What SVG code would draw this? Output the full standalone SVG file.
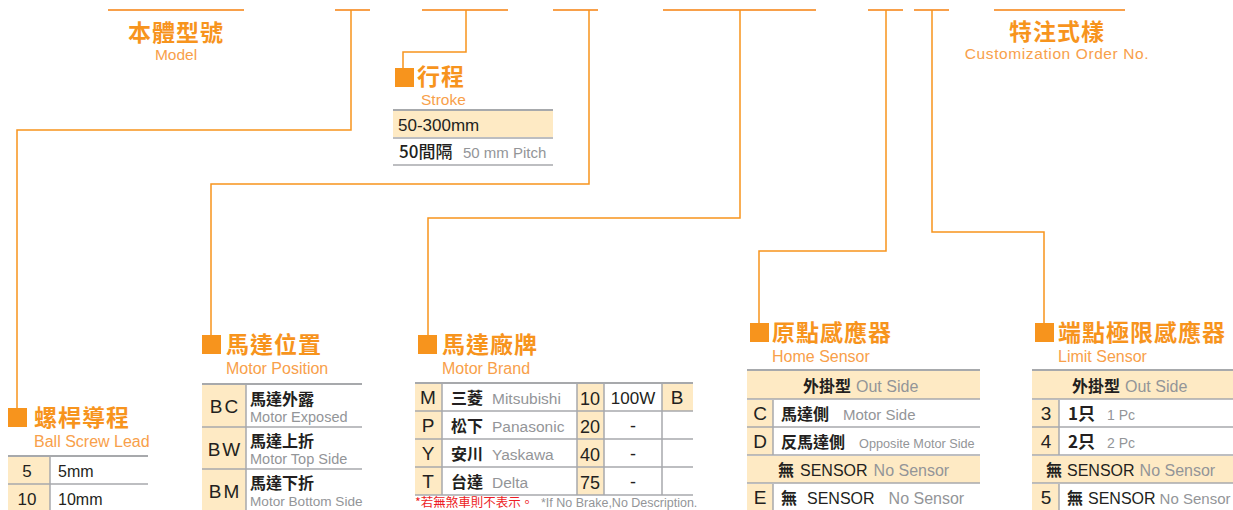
<svg xmlns="http://www.w3.org/2000/svg" width="1233" height="510" viewBox="0 0 1233 510">
<style>
.bar{stroke:#F8A04A;stroke-width:2;fill:none}
.ln{stroke:#F7941D;stroke-width:1.5;fill:none}
.sq{fill:#F7941D}
.zh{font-family:"Noto Sans CJK TC","Noto Sans CJK SC",sans-serif;font-weight:700;fill:#F7941D;font-size:23px;letter-spacing:1px}
.en{font-family:"Liberation Sans",Arial,sans-serif;fill:#F8A04A;font-size:15.5px}
.grid{stroke:#A7A9AC;stroke-width:1.5;fill:none}
.gtop{stroke:#A7A9AC;stroke-width:2;fill:none}
.bg{fill:#FEEAC4}
.code{font-family:"Liberation Sans",Arial,sans-serif;font-size:18px;fill:#231F20}
.kz{font-family:"Noto Sans CJK TC","Noto Sans CJK SC",sans-serif;font-weight:700;font-size:16px;fill:#231F20}
.kb{font-family:"Liberation Sans",Arial,sans-serif;font-size:16px;fill:#231F20}
.eg{font-family:"Liberation Sans",Arial,sans-serif;font-size:14.5px;fill:#939598}
.mid{text-anchor:middle}
</style>
<rect width="1233" height="510" fill="#FFFFFF"/>

<g id="top-bars">
<line class="bar" x1="108" y1="10" x2="244" y2="10"/>
<line class="bar" x1="335" y1="10" x2="370" y2="10"/>
<line class="bar" x1="422" y1="10" x2="508" y2="10"/>
<line class="bar" x1="553" y1="10" x2="598" y2="10"/>
<line class="bar" x1="663" y1="10" x2="816" y2="10"/>
<line class="bar" x1="868" y1="10" x2="903" y2="10"/>
<line class="bar" x1="914" y1="10" x2="949" y2="10"/>
<line class="bar" x1="994" y1="10" x2="1125" y2="10"/>
</g>

<g id="connectors">
<path class="ln" d="M351,10 V130 H17 V408"/>
<path class="ln" d="M466,10 V52 H403 V68"/>
<path class="ln" d="M589,10 V184 H211 V335"/>
<path class="ln" d="M740,10 V218 H428 V335"/>
<path class="ln" d="M886,10 V251 H759 V323"/>
<path class="ln" d="M932,10 V232 H1044 V323"/>
</g>

<g id="model">
<text class="zh mid" x="176" y="41">本體型號</text>
<text class="en mid" x="176" y="60">Model</text>
</g>

<g id="custom">
<text class="zh mid" x="1057" y="40">特注式樣</text>
<text class="en mid" x="1057" y="59" style="letter-spacing:0.6px">Customization Order No.</text>
</g>

<g id="stroke">
<rect class="sq" x="395" y="68" width="19" height="19"/>
<text class="zh" x="417" y="85">行程</text>
<text class="en" x="421" y="105">Stroke</text>
<rect class="bg" x="393" y="111" width="160" height="26"/>
<line class="gtop" x1="393" y1="110" x2="553" y2="110"/>
<line class="grid" x1="393" y1="138" x2="553" y2="138"/>
<line class="grid" x1="393" y1="165" x2="553" y2="165"/>
<text class="kb" x="398" y="131" style="font-size:17px">50-300mm</text>
<text class="kz" x="399" y="158" style="font-size:17px;font-weight:500">50間隔</text>
<text class="eg" x="463" y="158" style="font-size:15px">50 mm Pitch</text>
</g>

<g id="ball-screw-lead">
<rect class="sq" x="8" y="408" width="19" height="19"/>
<text class="zh" x="34" y="426">螺桿導程</text>
<text class="en" x="34" y="447" style="font-size:16px">Ball Screw Lead</text>
<rect class="bg" x="8" y="457" width="42" height="53"/>
<line class="gtop" x1="8" y1="456" x2="148" y2="456"/>
<line class="grid" x1="8" y1="484" x2="148" y2="484"/>
<line class="grid" x1="50" y1="457" x2="50" y2="510"/>
<text class="code mid" x="27" y="477" style="font-size:17px">5</text>
<text class="kb" x="58" y="477">5mm</text>
<text class="code mid" x="27" y="505" style="font-size:17px">10</text>
<text class="kb" x="58" y="505">10mm</text>
</g>

<g id="motor-position">
<rect class="sq" x="202" y="335" width="19" height="19"/>
<text class="zh" x="226" y="353">馬達位置</text>
<text class="en" x="226" y="374" style="font-size:16px">Motor Position</text>
<rect class="bg" x="202" y="385" width="44" height="125"/>
<line class="gtop" x1="202" y1="384" x2="362" y2="384"/>
<line class="grid" x1="202" y1="427" x2="362" y2="427"/>
<line class="grid" x1="202" y1="469" x2="362" y2="469"/>
<line class="grid" x1="246" y1="385" x2="246" y2="510"/>
<text class="code mid" x="225" y="413" style="font-size:19px;letter-spacing:2px">BC</text>
<text class="code mid" x="225" y="456" style="font-size:19px;letter-spacing:2px">BW</text>
<text class="code mid" x="225" y="498" style="font-size:19px;letter-spacing:2px">BM</text>
<text class="kz" x="250" y="405">馬達外露</text>
<text class="eg" x="250" y="422">Motor Exposed</text>
<text class="kz" x="250" y="447">馬達上折</text>
<text class="eg" x="250" y="464">Motor Top Side</text>
<text class="kz" x="250" y="489">馬達下折</text>
<text class="eg" x="250" y="506" style="font-size:13.6px">Motor Bottom Side</text>
</g>

<g id="motor-brand">
<rect class="sq" x="418" y="335" width="19" height="19"/>
<text class="zh" x="442" y="353">馬達廠牌</text>
<text class="en" x="442" y="374" style="font-size:16px">Motor Brand</text>
<rect class="bg" x="415" y="384" width="27" height="111"/>
<rect class="bg" x="577" y="384" width="27" height="111"/>
<rect class="bg" x="662" y="384" width="31" height="27"/>
<line class="gtop" x1="415" y1="383" x2="693" y2="383"/>
<line class="grid" x1="415" y1="411" x2="693" y2="411"/>
<line class="grid" x1="415" y1="439" x2="693" y2="439"/>
<line class="grid" x1="415" y1="467" x2="693" y2="467"/>
<line class="grid" x1="415" y1="495" x2="693" y2="495"/>
<line class="grid" x1="442" y1="384" x2="442" y2="495"/>
<line class="grid" x1="577" y1="384" x2="577" y2="495"/>
<line class="grid" x1="604" y1="384" x2="604" y2="495"/>
<line class="grid" x1="662" y1="384" x2="662" y2="495"/>
<text class="code mid" x="428" y="404" style="font-size:19px">M</text>
<text class="code mid" x="428" y="432" style="font-size:19px">P</text>
<text class="code mid" x="428" y="460" style="font-size:19px">Y</text>
<text class="code mid" x="428" y="488" style="font-size:19px">T</text>
<text class="kz" x="451" y="404">三菱</text>
<text class="eg" x="492" y="404" style="font-size:15.5px">Mitsubishi</text>
<text class="kz" x="451" y="432">松下</text>
<text class="eg" x="492" y="432" style="font-size:15.5px">Panasonic</text>
<text class="kz" x="451" y="460">安川</text>
<text class="eg" x="492" y="460" style="font-size:15.5px">Yaskawa</text>
<text class="kz" x="451" y="488">台達</text>
<text class="eg" x="492" y="488" style="font-size:15.5px">Delta</text>
<text class="code mid" x="590" y="405">10</text>
<text class="code mid" x="590" y="433">20</text>
<text class="code mid" x="590" y="461">40</text>
<text class="code mid" x="590" y="489">75</text>
<text class="code mid" x="633" y="404" style="font-size:17px">100W</text>
<text class="code mid" x="633" y="432">-</text>
<text class="code mid" x="633" y="460">-</text>
<text class="code mid" x="633" y="488">-</text>
<text class="code mid" x="677" y="404" style="font-size:19px">B</text>
<text x="415" y="507" style="font-family:'Noto Sans CJK TC','Noto Sans CJK SC',sans-serif;font-size:12.5px;fill:#ED1C24">*若無煞車則不表示。</text>
<text x="541" y="507" style="font-family:'Liberation Sans',Arial,sans-serif;font-size:12.5px;fill:#939598">*If No Brake,No Description.</text>
</g>

<g id="home-sensor">
<rect class="sq" x="750" y="323" width="19" height="19"/>
<text class="zh" x="772" y="341">原點感應器</text>
<text class="en" x="772" y="362" style="font-size:16px">Home Sensor</text>
<rect class="bg" x="747" y="371" width="233" height="28"/>
<rect class="bg" x="747" y="456" width="233" height="27"/>
<rect class="bg" x="747" y="400" width="26" height="55"/>
<rect class="bg" x="747" y="484" width="26" height="26"/>
<line class="gtop" x1="747" y1="370" x2="980" y2="370"/>
<line class="grid" x1="747" y1="399" x2="980" y2="399"/>
<line class="grid" x1="747" y1="427" x2="980" y2="427"/>
<line class="grid" x1="747" y1="455" x2="980" y2="455"/>
<line class="grid" x1="747" y1="483" x2="980" y2="483"/>
<line class="grid" x1="773" y1="400" x2="773" y2="455"/>
<line class="grid" x1="773" y1="484" x2="773" y2="510"/>
<text x="803" y="392"><tspan class="kz">外掛型</tspan><tspan class="eg" dx="5" style="font-size:16px">Out Side</tspan></text>
<text class="code mid" x="760" y="420" style="font-size:19px">C</text>
<text x="781" y="420"><tspan class="kz">馬達側</tspan><tspan class="eg" dx="14" style="font-size:15px">Motor Side</tspan></text>
<text class="code mid" x="760" y="448" style="font-size:19px">D</text>
<text x="781" y="448"><tspan class="kz">反馬達側</tspan><tspan class="eg" dx="14" style="font-size:12.7px">Opposite Motor Side</tspan></text>
<text x="778" y="476"><tspan class="kz">無</tspan><tspan class="kb" dx="6">SENSOR</tspan><tspan class="eg" dx="6" style="font-size:16px">No Sensor</tspan></text>
<text class="code mid" x="760" y="504" style="font-size:19px">E</text>
<text x="781" y="504"><tspan class="kz">無</tspan><tspan class="kb" dx="10">SENSOR</tspan><tspan class="eg" dx="14" style="font-size:16px">No Sensor</tspan></text>
</g>

<g id="limit-sensor">
<rect class="sq" x="1035" y="323" width="19" height="19"/>
<text class="zh" x="1058" y="341">端點極限感應器</text>
<text class="en" x="1058" y="362" style="font-size:16px">Limit Sensor</text>
<rect class="bg" x="1032" y="371" width="201" height="28"/>
<rect class="bg" x="1032" y="456" width="201" height="27"/>
<rect class="bg" x="1032" y="400" width="27" height="55"/>
<rect class="bg" x="1032" y="484" width="27" height="26"/>
<line class="gtop" x1="1032" y1="370" x2="1233" y2="370"/>
<line class="grid" x1="1032" y1="399" x2="1233" y2="399"/>
<line class="grid" x1="1032" y1="427" x2="1233" y2="427"/>
<line class="grid" x1="1032" y1="455" x2="1233" y2="455"/>
<line class="grid" x1="1032" y1="483" x2="1233" y2="483"/>
<line class="grid" x1="1059" y1="400" x2="1059" y2="455"/>
<line class="grid" x1="1059" y1="484" x2="1059" y2="510"/>
<text x="1072" y="392"><tspan class="kz">外掛型</tspan><tspan class="eg" dx="5" style="font-size:16px">Out Side</tspan></text>
<text class="code mid" x="1046" y="420" style="font-size:19px">3</text>
<text x="1068" y="420"><tspan class="kz" style="font-size:17px">1只</tspan><tspan class="eg" dx="12" style="font-size:14px">1 Pc</tspan></text>
<text class="code mid" x="1046" y="448" style="font-size:19px">4</text>
<text x="1068" y="448"><tspan class="kz" style="font-size:17px">2只</tspan><tspan class="eg" dx="12" style="font-size:14px">2 Pc</tspan></text>
<text x="1046" y="476"><tspan class="kz">無</tspan><tspan class="kb" dx="5">SENSOR</tspan><tspan class="eg" dx="5" style="font-size:16px">No Sensor</tspan></text>
<text class="code mid" x="1046" y="504" style="font-size:19px">5</text>
<text x="1067" y="504"><tspan class="kz">無</tspan><tspan class="kb" dx="5">SENSOR</tspan><tspan class="eg" dx="4" style="font-size:15px">No Sensor</tspan></text>
</g>
</svg>
